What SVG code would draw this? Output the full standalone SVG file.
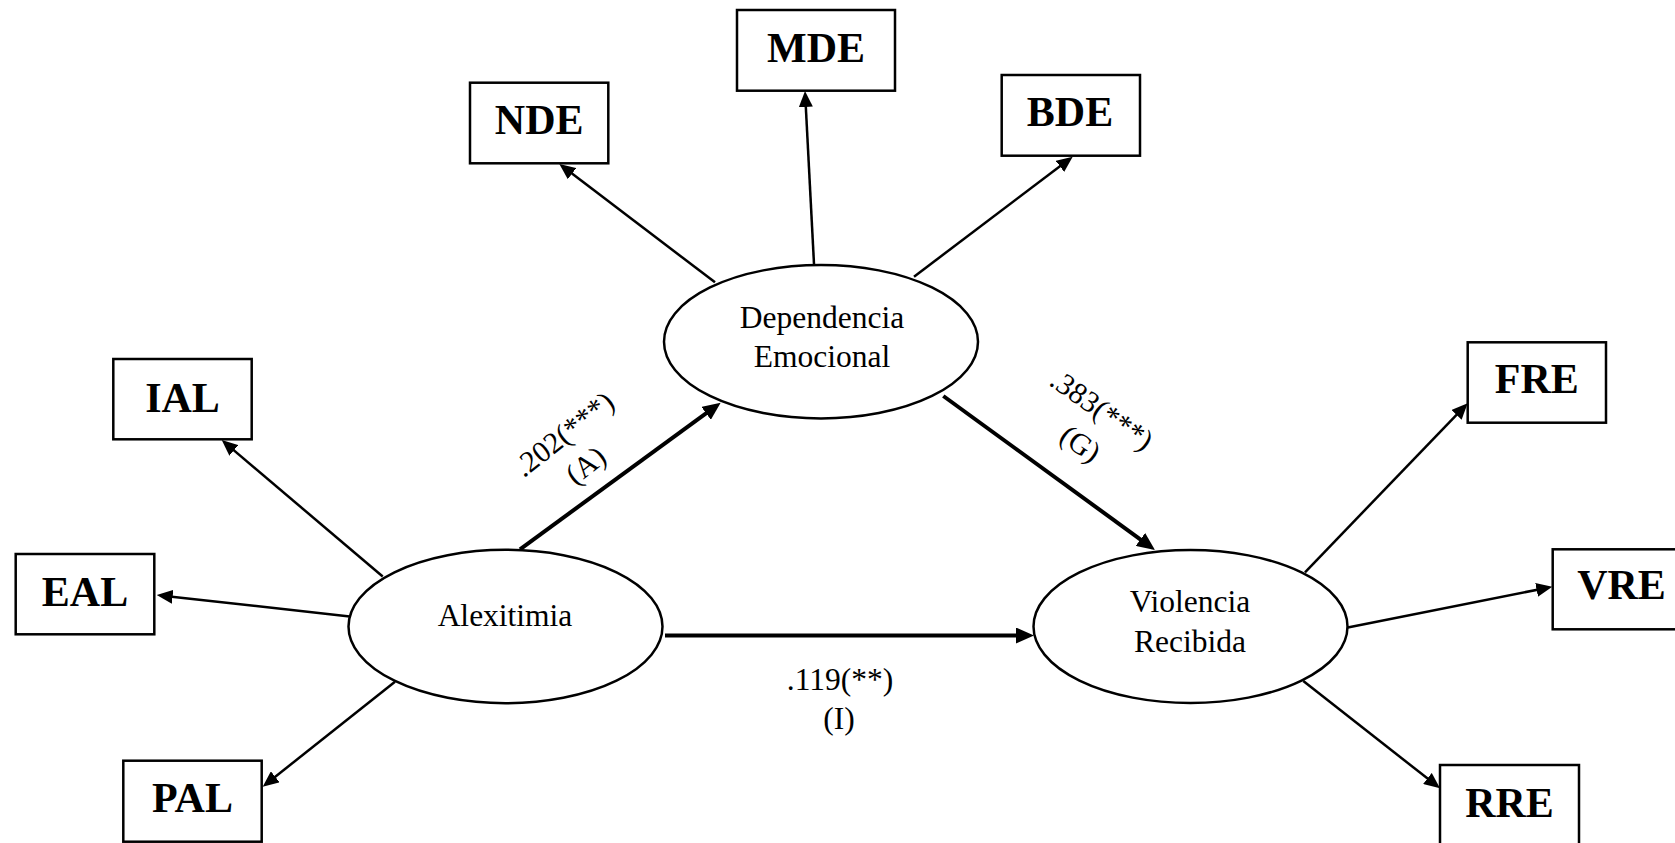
<svg xmlns="http://www.w3.org/2000/svg" width="1675" height="843" viewBox="0 0 1675 843">
<style>
.box{fill:#fff;stroke:#000;stroke-width:2.5}
.ell{fill:#fff;stroke:#000;stroke-width:2.5}
.lbl{font-family:"Liberation Serif","Times New Roman",serif;font-weight:bold;font-size:42px;text-anchor:middle;fill:#000}
.nm{font-family:"Liberation Serif","Times New Roman",serif;font-size:31.5px;text-anchor:middle;fill:#000}
.coef{font-family:"Liberation Serif","Times New Roman",serif;font-size:30px;text-anchor:middle;fill:#000}
.thin{stroke:#000;stroke-width:2.5;fill:none;marker-end:url(#ah)}
.thick{stroke:#000;stroke-width:4;fill:none;marker-end:url(#ahb)}
</style>
<defs>
<marker id="ah" markerUnits="userSpaceOnUse" markerWidth="16" markerHeight="14" refX="10" refY="7" orient="auto" viewBox="0 0 16 14">
<path d="M0,0 L16,7 L0,14 Z" fill="#000"/>
</marker>
<marker id="ahb" markerUnits="userSpaceOnUse" markerWidth="18" markerHeight="16" refX="10" refY="8" orient="auto" viewBox="0 0 18 16">
<path d="M0,0 L18,8 L0,16 Z" fill="#000"/>
</marker>
</defs>
<rect width="1675" height="843" fill="#fff"/>
<g id="connectors">
<line class="thin" x1="715" y1="282.3" x2="564.1" y2="167.6"/>
<line class="thin" x1="814" y1="264" x2="805.3" y2="97"/>
<line class="thin" x1="914" y1="276.7" x2="1067.9" y2="160.3"/>
<line class="thin" x1="382.7" y1="576.5" x2="226.3" y2="443.9"/>
<line class="thin" x1="352" y1="616.7" x2="162.7" y2="595.7"/>
<line class="thin" x1="395" y1="681.7" x2="267.4" y2="783"/>
<line class="thin" x1="1305" y1="572.3" x2="1463.5" y2="407.6"/>
<line class="thin" x1="1344" y1="628.3" x2="1546.4" y2="587.9"/>
<line class="thin" x1="1303.3" y1="681" x2="1435.3" y2="784.6"/>
<line class="thick" x1="520" y1="549.3" x2="714.2" y2="407.4"/>
<line class="thick" x1="943.3" y1="396" x2="1148.5" y2="545.3"/>
<line class="thick" x1="665" y1="635.5" x2="1026" y2="635.5"/>
<g transform="translate(570,442) rotate(-38)">
<text class="coef" x="0" y="0">.202(***)</text>
<text class="coef" x="-2" y="38">(A)</text>
</g>
<g transform="translate(1096,418) rotate(35)">
<text class="coef" x="0" y="0">.383(***)</text>
<text class="coef" x="2" y="40">(G)</text>
</g>
<text class="nm" x="840" y="690">.119(**)</text>
<text class="nm" x="839" y="729">(I)</text>
</g>
<g id="dependencia">
<ellipse class="ell" cx="821" cy="341.7" rx="157" ry="76.7"/>
<text class="nm" x="822" y="328.3">Dependencia</text>
<text class="nm" x="822" y="366.7">Emocional</text>
</g>
<g id="alexitimia">
<ellipse class="ell" cx="505.5" cy="626.5" rx="157" ry="76.7"/>
<text class="nm" x="505" y="626">Alexitimia</text>
</g>
<g id="violencia">
<ellipse class="ell" cx="1190.5" cy="626.5" rx="157" ry="76.5"/>
<text class="nm" x="1190" y="612.3">Violencia</text>
<text class="nm" x="1190" y="651.7">Recibida</text>
</g>
<g id="MDE"><rect class="box" x="737" y="10" width="158" height="80.7"/><text class="lbl" x="816" y="61.7">MDE</text></g>
<g id="NDE"><rect class="box" x="470" y="82.7" width="138.3" height="80.6"/><text class="lbl" x="539.2" y="134">NDE</text></g>
<g id="BDE"><rect class="box" x="1001.7" y="75" width="138.3" height="80.7"/><text class="lbl" x="1070" y="126">BDE</text></g>
<g id="IAL"><rect class="box" x="113.3" y="359" width="138.4" height="80.3"/><text class="lbl" x="182.5" y="411.7">IAL</text></g>
<g id="EAL"><rect class="box" x="15.7" y="554" width="138.6" height="80.3"/><text class="lbl" x="85" y="605.7">EAL</text></g>
<g id="PAL"><rect class="box" x="123.3" y="760.7" width="138.4" height="81"/><text class="lbl" x="192.5" y="811.7">PAL</text></g>
<g id="FRE"><rect class="box" x="1467.7" y="342.3" width="138.3" height="80.4"/><text class="lbl" x="1536.8" y="392.7">FRE</text></g>
<g id="VRE"><rect class="box" x="1552.7" y="549.3" width="138" height="80"/><text class="lbl" x="1621.5" y="599.3">VRE</text></g>
<g id="RRE"><rect class="box" x="1440" y="765" width="139" height="80"/><text class="lbl" x="1509.5" y="816.7">RRE</text></g>
</svg>
